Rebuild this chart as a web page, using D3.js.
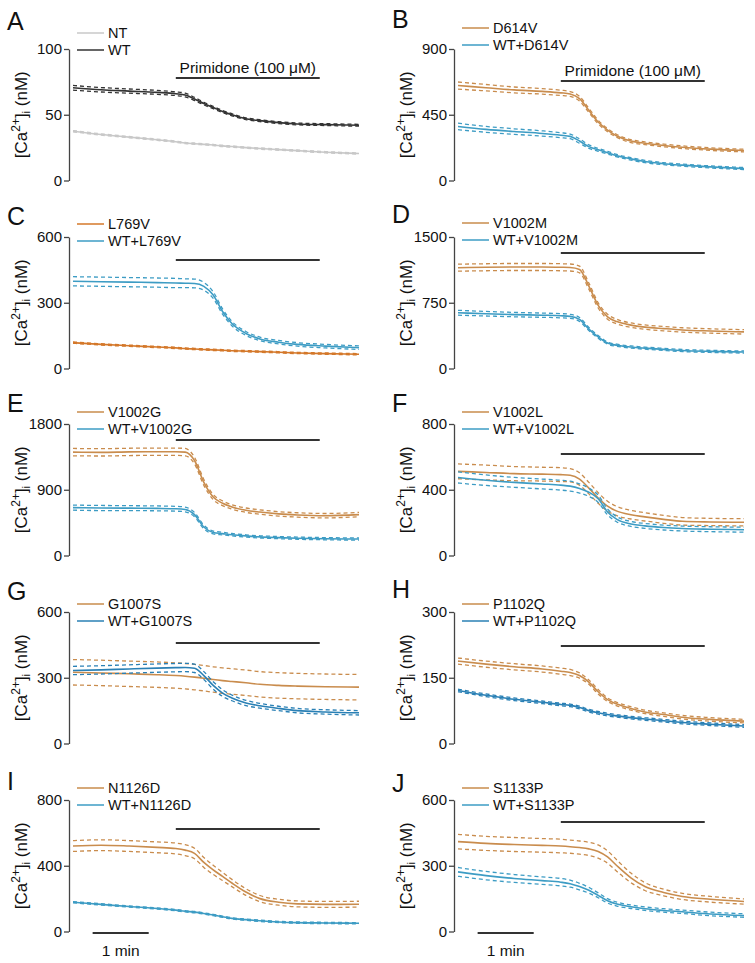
<!DOCTYPE html>
<html><head><meta charset="utf-8">
<script src="https://cdn.jsdelivr.net/npm/d3@7"></script>
<style>
body{margin:0;background:#fff;}
svg text{font-family:Arial,"Liberation Sans",Helvetica,sans-serif;fill:#111;}
</style></head>
<body>
<svg id="c" width="755" height="963"></svg>
<script>
// time (s) sample points
const time = [0,30,60,90,110,120,130,140,150,160,170,185,200,220,240,270,306];

// Panel A
const ntMean   = [37.5,35,33,31,29.5,28.5,28,27.5,27,26.3,25.8,25,24.3,23.5,22.7,21.5,20.5];
const ntSem    = [0.5,0.5,0.5,0.5,0.5,0.5,0.5,0.5,0.5,0.5,0.5,0.5,0.5,0.5,0.5,0.5,0.5];
const wtMean   = [70.5,69,68,67,66,65,62,58.5,55.5,52.5,50,47,45.5,44,43,42.5,42];
const wtSem    = [1.8,1.7,1.6,1.5,1.4,1.4,1.2,1,0.9,0.8,0.8,0.7,0.7,0.7,0.7,0.7,0.7];
// Panel B
const d614vMean   = [650,635,620,610,600,592,560,480,400,345,305,270,255,240,228,215,205];
const d614vSem    = [24,22,20,19,18,17,16,14,12,11,10,10,9,9,9,9,9];
const wtD614vMean = [370,350,335,322,310,302,270,232,210,190,170,148,130,115,105,93,82];
const wtD614vSem  = [22,20,19,18,17,16,15,12,10,9,8,8,8,7,7,7,7];
// Panel C
const l769vMean   = [118,110,104,98,94,91,89,87,85,83,81,79,77,74,71,68,65];
const l769vSem    = [3,3,3,3,3,3,3,3,3,3,3,3,3,3,3,3,3];
const wtL769vMean = [398,396,394,392,390,389,388,375,335,260,205,160,135,120,110,102,95];
const wtL769vSem  = [21,21,21,21,21,20,20,18,15,12,10,9,8,8,8,8,8];
// Panel D
const v1002mMean   = [1150,1155,1158,1158,1155,1152,1130,940,720,590,535,495,472,455,440,428,418];
const v1002mSem    = [40,40,40,40,40,40,38,35,30,28,26,25,25,25,25,25,25];
const wtV1002mMean = [636,625,615,608,602,595,560,450,360,290,265,245,232,218,205,195,188];
const wtV1002mSem  = [28,26,25,24,24,23,22,18,15,12,12,12,12,12,12,12,12];
// Panel E
const v1002gMean   = [1415,1412,1418,1420,1420,1415,1300,1000,800,715,665,620,595,570,555,545,560];
const v1002gSem    = [50,50,50,50,50,50,45,40,35,32,30,30,30,30,30,30,30];
const wtV1002gMean = [655,650,648,645,640,630,560,390,315,300,285,268,255,245,237,230,225];
const wtV1002gSem  = [35,35,34,33,33,32,30,25,20,18,16,15,15,15,15,15,15];
// Panel F
const v1002lMean   = [512,505,498,495,492,488,465,410,350,300,270,248,235,220,208,204,202];
const v1002lSem    = [45,45,43,42,42,40,38,35,32,30,28,26,25,24,23,22,22];
const wtV1002lMean = [475,458,445,435,428,422,408,385,345,265,220,192,180,170,164,160,157];
const wtV1002lSem  = [34,32,30,30,30,30,28,25,22,18,16,15,15,15,15,15,15];
// Panel G
const g1007sMean   = [325,322,318,314,310,307,303,298,292,287,283,277,270,265,262,259,257];
const g1007sSem    = [58,58,58,58,58,58,58,58,58,58,58,58,58,58,58,58,58];
const wtG1007sMean = [333,336,340,344,346,347,343,310,265,230,208,185,172,160,150,144,140];
const wtG1007sSem  = [19,19,19,19,19,19,19,18,17,15,13,12,11,10,10,10,10];
// Panel H
const p1102qMean   = [188,181,175,170,165,162,155,140,118,100,90,80,72,66,60,55,51];
const p1102qSem    = [7,7,7,7,7,7,6,5,5,4,4,4,4,4,4,4,4];
const wtP1102qMean = [121,110,101,94,89,87,82,75,70,66,63,59,56,52,48,44,40];
const wtP1102qSem  = [3,3,3,3,3,3,3,3,3,3,3,3,3,3,3,3,3];
// Panel I
const n1126dMean   = [520,525,520,512,505,495,475,420,375,335,295,240,200,178,168,165,166];
const n1126dSem    = [33,33,33,33,33,33,32,30,28,25,22,20,19,18,18,18,18];
const wtN1126dMean = [178,165,152,140,130,123,118,110,100,90,80,72,65,58,54,52,50];
const wtN1126dSem  = [4,4,4,4,4,4,4,4,4,4,4,4,4,4,4,4,4];
// Panel J
const s1133pMean   = [410,402,397,393,390,387,383,377,365,340,300,245,205,178,160,147,137];
const s1133pSem    = [33,32,32,31,31,30,30,30,30,28,26,22,18,15,14,13,12];
const wtS1133pMean = [272,255,242,232,225,218,205,188,165,140,125,113,104,96,90,80,73];
const wtS1133pSem  = [20,19,18,17,17,16,15,13,11,10,9,8,8,8,8,8,8];

const panelLetters = ["A","B","C","D","E","F","G","H","I","J"];
const yMaxes = [100,900,600,1500,1800,800,600,300,800,600];
const primidoneTime = [110,264];
const scaleBarTime = [21,81];

const ORANGE="#c98c4d", ORANGE_C="#d4782a", BLUE="#3d9cc4", BLUE_D="#2a80b5";

const panels = [
 {series:[{name:"NT",m:ntMean,s:ntSem,c:"#c8c8c8"},{name:"WT",m:wtMean,s:wtSem,c:"#333333"}]},
 {series:[{name:"D614V",m:d614vMean,s:d614vSem,c:ORANGE},{name:"WT+D614V",m:wtD614vMean,s:wtD614vSem,c:BLUE}]},
 {series:[{name:"L769V",m:l769vMean,s:l769vSem,c:ORANGE_C},{name:"WT+L769V",m:wtL769vMean,s:wtL769vSem,c:BLUE}]},
 {series:[{name:"V1002M",m:v1002mMean,s:v1002mSem,c:ORANGE},{name:"WT+V1002M",m:wtV1002mMean,s:wtV1002mSem,c:BLUE}]},
 {series:[{name:"V1002G",m:v1002gMean,s:v1002gSem,c:ORANGE},{name:"WT+V1002G",m:wtV1002gMean,s:wtV1002gSem,c:BLUE}]},
 {series:[{name:"V1002L",m:v1002lMean,s:v1002lSem,c:ORANGE},{name:"WT+V1002L",m:wtV1002lMean,s:wtV1002lSem,c:BLUE}]},
 {series:[{name:"G1007S",m:g1007sMean,s:g1007sSem,c:ORANGE},{name:"WT+G1007S",m:wtG1007sMean,s:wtG1007sSem,c:BLUE_D}]},
 {series:[{name:"P1102Q",m:p1102qMean,s:p1102qSem,c:ORANGE},{name:"WT+P1102Q",m:wtP1102qMean,s:wtP1102qSem,c:BLUE_D}]},
 {series:[{name:"N1126D",m:n1126dMean,s:n1126dSem,c:ORANGE},{name:"WT+N1126D",m:wtN1126dMean,s:wtN1126dSem,c:BLUE}]},
 {series:[{name:"S1133P",m:s1133pMean,s:s1133pSem,c:ORANGE},{name:"WT+S1133P",m:wtS1133pMean,s:wtS1133pSem,c:BLUE}]}
];

// layout
const colX=[0,385];
const rowTop=[49,237,424,612,800];
const plotH=131.5;
const letterY=[30,28,225,223,412,412,600,598,790,792];
const legendY=[33,28,224,223,412,412,604,604,788,788];
const barY=[78,81,260,253,440,454,643,646,829,822];

const svg=d3.select("#c");

panels.forEach((p,i)=>{
  const col=i%2,row=Math.floor(i/2);
  const cx=colX[col], top=rowTop[row], bot=top+plotH;
  const g=svg.append("g");
  const x=d3.scaleLinear().domain([0,306]).range([cx+73,cx+359]);
  const y=d3.scaleLinear().domain([0,yMaxes[i]]).range([bot,top]);

  // y axis
  const ax=g.append("g").attr("transform",`translate(${cx+69},0)`)
    .call(d3.axisLeft(y).tickValues([0,yMaxes[i]/2,yMaxes[i]]).tickFormat(d3.format("d"))
      .tickSize(5).tickPadding(2).tickSizeOuter(0));
  ax.select(".domain").attr("stroke","#444").attr("stroke-width",1.3);
  ax.selectAll(".tick line").attr("stroke","#444").attr("stroke-width",1.3);
  ax.selectAll(".tick text").style("font-size","15px").attr("fill","#111")
    .style("font-family","Arial, 'Liberation Sans', sans-serif");

  // y label
  const lab=g.append("text").attr("transform",`translate(${cx+27},${(top+bot)/2}) rotate(-90)`)
    .attr("text-anchor","middle").style("font-size","17px");
  lab.append("tspan").text("[Ca");
  lab.append("tspan").text("2+").attr("baseline-shift","super").style("font-size","12px");
  lab.append("tspan").text("]");
  lab.append("tspan").text("i").attr("baseline-shift","-3").style("font-size","11px");
  lab.append("tspan").text(" (nM)");

  // panel letter
  g.append("text").attr("x",cx+7).attr("y",letterY[i]).text(panelLetters[i])
    .style("font-size","25px");

  // legend
  p.series.forEach((s,k)=>{
    const ly=legendY[i]+k*17;
    g.append("line").attr("x1",cx+77).attr("x2",cx+104).attr("y1",ly).attr("y2",ly)
      .attr("stroke",s.c).attr("stroke-width",1.5);
    g.append("text").attr("x",cx+108).attr("y",ly).attr("dy","0.36em").text(s.name).style("font-size","14.5px");
  });

  // primidone bar
  g.append("line").attr("x1",x(primidoneTime[0])).attr("x2",x(primidoneTime[1]))
    .attr("y1",barY[i]).attr("y2",barY[i]).attr("stroke","#333").attr("stroke-width",1.8);
  if(i<2){
    g.append("text").attr("x",(x(primidoneTime[0])+x(primidoneTime[1]))/2).attr("y",barY[i]-5)
      .attr("text-anchor","middle").text("Primidone (100 μM)").style("font-size","15.5px");
  }

  // traces
  const line=(arr)=>d3.line().x((d,j)=>x(time[j])).y(d=>y(d)).curve(d3.curveMonotoneX)(arr);
  p.series.forEach(s=>{
    const up=s.m.map((v,j)=>v+s.s[j]);
    const lo=s.m.map((v,j)=>v-s.s[j]);
    [up,lo].forEach(a=>g.append("path").attr("d",line(a)).attr("fill","none")
      .attr("stroke",s.c).attr("stroke-width",1.3).attr("stroke-dasharray","4,3"));
    g.append("path").attr("d",line(s.m)).attr("fill","none").attr("stroke",s.c).attr("stroke-width",1.6);
  });

  // scale bar
  if(row===4){
    const sy=933;
    g.append("line").attr("x1",x(scaleBarTime[0])).attr("x2",x(scaleBarTime[1]))
      .attr("y1",sy).attr("y2",sy).attr("stroke","#333").attr("stroke-width",1.8);
    g.append("text").attr("x",(x(scaleBarTime[0])+x(scaleBarTime[1]))/2).attr("y",956)
      .attr("text-anchor","middle").text("1 min").style("font-size","15.5px");
  }
});
</script>
</body></html>
